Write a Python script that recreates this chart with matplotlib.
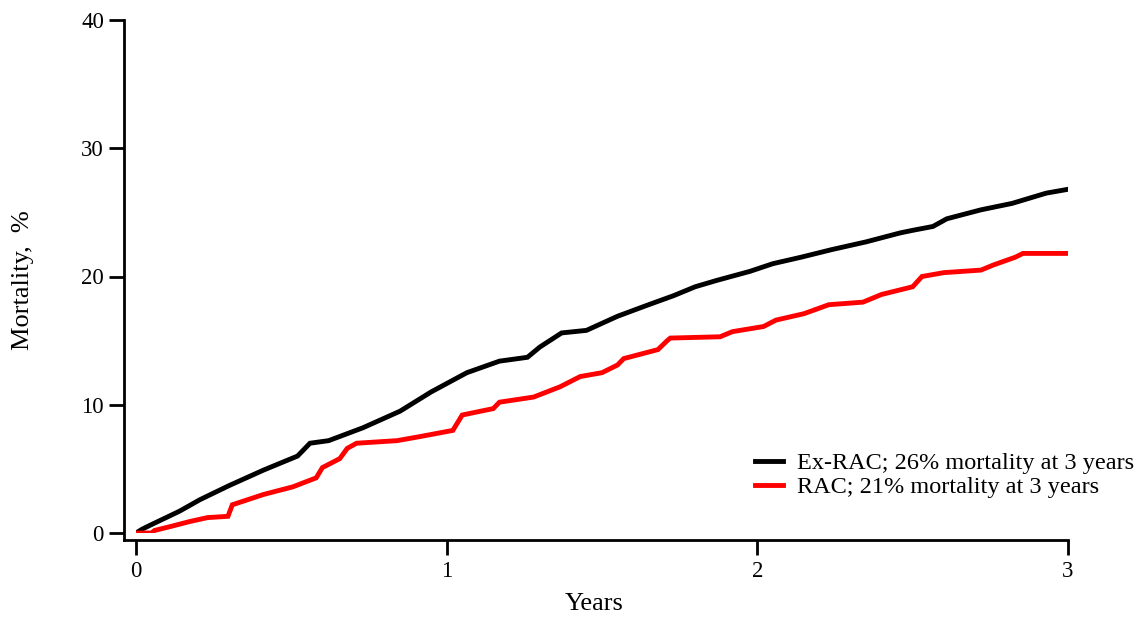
import matplotlib
matplotlib.use("Agg")
import matplotlib.pyplot as plt

plt.rcParams['font.family'] = ['Liberation Serif', 'DejaVu Serif']

# Data
ex_rac_years = [0, 0.02, 0.045, 0.14, 0.206, 0.30, 0.41, 0.52, 0.56, 0.62, 0.73, 0.85,
                0.95, 1.065, 1.17, 1.26, 1.30, 1.37, 1.45, 1.55, 1.65, 1.73, 1.80,
                1.87, 1.976, 2.05, 2.14, 2.24, 2.35, 2.46, 2.50, 2.565, 2.61, 2.72,
                2.82, 2.93, 3.0]
ex_rac_mort = [0, 0.3, 0.6, 1.7, 2.6, 3.7, 4.9, 6.0, 7.0, 7.2, 8.2, 9.5,
               11.0, 12.5, 13.4, 13.7, 14.5, 15.6, 15.8, 16.9, 17.8, 18.5, 19.2,
               19.7, 20.4, 21.0, 21.5, 22.1, 22.7, 23.4, 23.6, 23.9, 24.5, 25.2,
               25.7, 26.5, 26.8]

rac_years = [0, 0.05, 0.06, 0.11, 0.174, 0.23, 0.296, 0.31, 0.41, 0.505, 0.58, 0.60,
             0.656, 0.68, 0.71, 0.84, 0.91, 1.02, 1.05, 1.15, 1.17, 1.28, 1.365,
             1.43, 1.50, 1.55, 1.57, 1.68, 1.71, 1.72, 1.88, 1.92, 2.02, 2.06,
             2.15, 2.23, 2.34, 2.40, 2.50, 2.53, 2.60, 2.72, 2.76, 2.83, 2.855, 3.0]
rac_mort = [0, 0.0, 0.2, 0.5, 0.9, 1.2, 1.3, 2.2, 3.0, 3.6, 4.3, 5.1,
            5.8, 6.6, 7.0, 7.2, 7.5, 8.0, 9.2, 9.7, 10.2, 10.6, 11.4,
            12.2, 12.5, 13.1, 13.6, 14.3, 15.0, 15.2, 15.3, 15.7, 16.1, 16.6,
            17.1, 17.8, 18.0, 18.6, 19.2, 20.0, 20.3, 20.5, 20.9, 21.5, 21.8, 21.8]

labels = ["Ex-RAC; 26% mortality at 3 years", "RAC; 21% mortality at 3 years"]
x_ticks = [0, 1, 2, 3]
y_ticks = [0, 10, 20, 30, 40]

W, H = 1143, 619
fig = plt.figure(figsize=(W / 100, H / 100), dpi=100)
fig.patch.set_facecolor('white')
ax = fig.add_axes([136 / W, (H - 533) / H, 932 / W, 513 / H])

ax.plot(ex_rac_years, ex_rac_mort, color='black', lw=3.5, label=labels[0],
        solid_joinstyle='miter')
ax.plot(rac_years, rac_mort, color='#ff0000', lw=3.5, label=labels[1],
        solid_joinstyle='miter')

ax.set_xlim(0, 3)
ax.set_ylim(0, 40)
ax.set_xticks(x_ticks)
ax.set_yticks(y_ticks)

ax.spines['top'].set_visible(False)
ax.spines['right'].set_visible(False)
ax.spines['left'].set_position(('outward', 8.6))
ax.spines['bottom'].set_position(('outward', 5))
ax.spines['left'].set_bounds(-0.55, 40)
ax.spines['bottom'].set_bounds(-0.039, 3)
for s in ('left', 'bottom'):
    ax.spines[s].set_linewidth(2.0)

ax.tick_params(axis='both', direction='out', length=10.5, width=2.0,
               labelsize=16.5, pad=4, colors='black')
ax.tick_params(axis='x', pad=5)

ax.set_xlabel("Years", fontsize=19)
ax.set_ylabel("Mortality,  %", fontsize=19)
ax.xaxis.set_label_coords((594 - 136) / 932, -(593 - 533) / 513)
ax.yaxis.set_label_coords((34 - 136) / 932, (533 - 280) / 513)

leg = ax.legend(loc='upper left', bbox_to_anchor=(755 / W, 1 - 452 / H),
                bbox_transform=fig.transFigure, frameon=False, fontsize=17.5,
                handlelength=1.15, handletextpad=0.58, labelspacing=0.1,
                borderpad=0, borderaxespad=0)

fig.savefig("out.png", dpi=100, facecolor='white')
